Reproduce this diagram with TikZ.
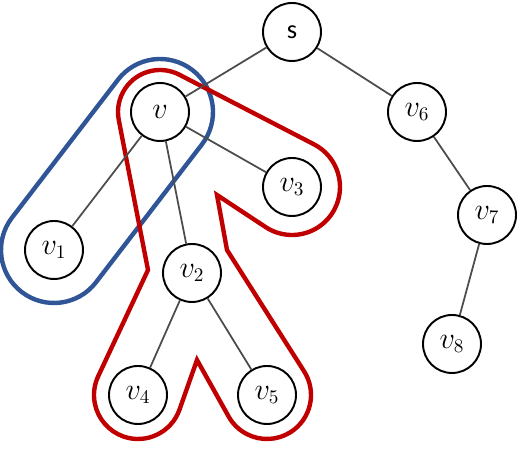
\documentclass[tikz,border=0pt]{standalone}
\usepackage{fontspec}
\newfontfamily\calibrifont{Carlito}
\usetikzlibrary{calc}

\definecolor{grpblue}{RGB}{47,85,151}
\definecolor{grpred}{RGB}{192,0,0}

\begin{document}
\begin{tikzpicture}[
    vertex/.style={circle, draw, line width=1.1pt, minimum size=1.16cm, inner sep=0pt, fill=white, font=\fontsize{16}{18}\selectfont},
    edge/.style={draw=black!70, line width=1pt},
    bluegroup/.style={draw=grpblue, line width=2.5pt},
    redgroup/.style={draw=grpred, line width=2.5pt, line join=miter}]
  \useasboundingbox (0,0) rectangle (10.48,9.28);

  % Vrcholy stromu
  \node[vertex] (s)  at (5.84,8.64) {\calibrifont\fontsize{15}{17}\selectfont s};
  \node[vertex] (v)  at (3.20,7.04) {$v$};
  \node[vertex] (v6) at (8.34,7.04) {$v_6$};
  \node[vertex] (v3) at (5.84,5.54) {$v_3$};
  \node[vertex] (v7) at (9.74,4.98) {$v_7$};
  \node[vertex] (v1) at (1.08,4.28) {$v_1$};
  \node[vertex] (v2) at (3.84,3.82) {$v_2$};
  \node[vertex] (v8) at (9.04,2.40) {$v_8$};
  \node[vertex] (v4) at (2.76,1.38) {$v_4$};
  \node[vertex] (v5) at (5.34,1.38) {$v_5$};

  % Body zubu cervene oblasti
  \coordinate (n1) at (4.34,5.38);
  \coordinate (p1) at (4.54,4.28);
  \coordinate (n2) at (3.94,2.08);
  \coordinate (p2) at (2.96,3.88);

  % Modra oblast: v a v1
  \draw[bluegroup] ($(v.center)+(322.5:1.06)$) -- ($(v1.center)+(322.5:1.06)$)
    arc[start angle=322.5, end angle=142.5, radius=1.06]
    -- ($(v.center)+(142.5:1.06)$)
    arc[start angle=142.5, end angle=-37.5, radius=1.06] -- cycle;

  % Cervena oblast: v, v2, v3, v4, v5
  \draw[redgroup] ($(v.center)+(191.1:0.84)$)
    arc[start angle=191.1, end angle=62.3, radius=0.84]
    -- ($(v3.center)+(62.3:0.96)$)
    arc[start angle=62.3, end angle=-122.4, radius=0.96]
    -- (n1) -- (p1)
    -- ($(v5.center)+(32.4:0.88)$)
    arc[start angle=32.4, end angle=-150.8, radius=0.88]
    -- (n2)
    -- ($(v4.center)+(-19.4:0.88)$)
    arc[start angle=-19.4, end angle=-205.1, radius=0.88]
    -- (p2) -- cycle;

  % Hrany
  \draw[edge] (s) -- (v);
  \draw[edge] (s) -- (v6);
  \draw[edge] (v) -- (v1);
  \draw[edge] (v) -- (v2);
  \draw[edge] (v) -- (v3);
  \draw[edge] (v2) -- (v4);
  \draw[edge] (v2) -- (v5);
  \draw[edge] (v6) -- (v7);
  \draw[edge] (v7) -- (v8);
\end{tikzpicture}
\end{document}
